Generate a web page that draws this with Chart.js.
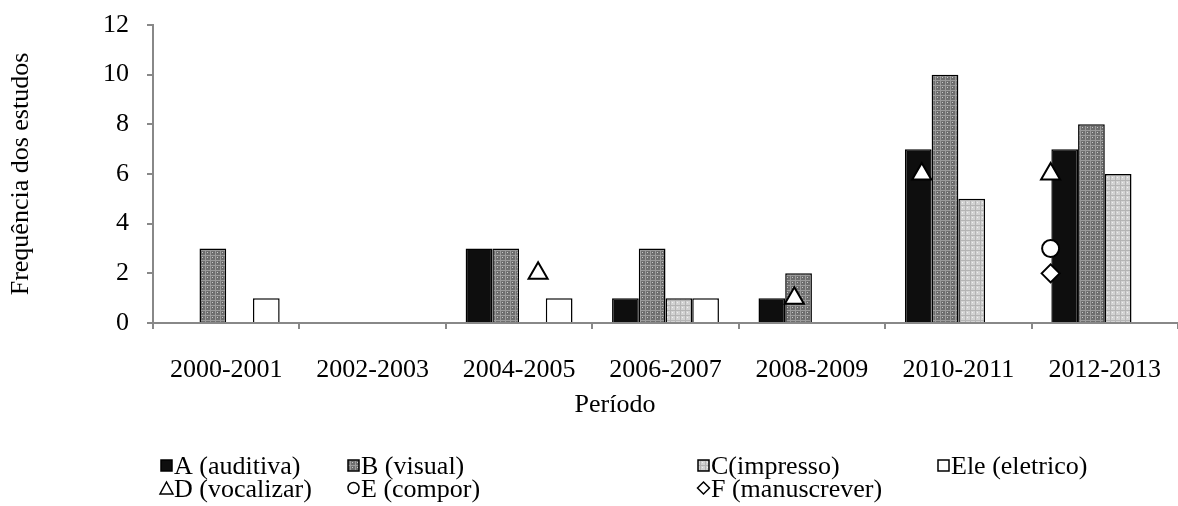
<!DOCTYPE html>
<html>
<head>
<meta charset="utf-8">
<script src="https://cdn.jsdelivr.net/npm/chart.js@4.4.1/dist/chart.umd.min.js"></script>
<style>
  html, body { margin: 0; padding: 0; background: #fff; }
  #wrap { width: 1178px; height: 506px; }
</style>
</head>
<body>
<div id="wrap"><canvas id="chart" width="1178" height="506"></canvas></div>
<script>
const periods = ['2000-2001', '2002-2003', '2004-2005', '2006-2007', '2008-2009', '2010-2011', '2012-2013'];

// bar series
const auditiva  = [0, 0, 3, 1, 1, 7, 7];
const visual    = [3, 0, 3, 3, 2, 10, 8];
const impresso  = [0, 0, 0, 1, 0, 5, 6];
const eletrico  = [1, 0, 1, 1, 0, 0, 0];

// marker series, x = position on the period axis (0 = first period)
const vocalizarX = [2.13, 3.88, 4.75, 5.63];
const vocalizarY = [2, 1, 6, 6];
const comporX    = [5.63];
const comporY    = [3];
const manuscX    = [5.63];
const manuscY    = [2];

const yTicks = [0, 2, 4, 6, 8, 10, 12];

const FONT = 'Liberation Serif';
const FS = 26;

function makePattern(base, line, dot) {
  const c = document.createElement('canvas');
  c.width = 5; c.height = 5;
  const g = c.getContext('2d');
  g.fillStyle = base; g.fillRect(0, 0, 5, 5);
  g.fillStyle = line;
  g.fillRect(0, 0, 5, 1);
  g.fillRect(0, 0, 1, 5);
  g.fillStyle = dot; g.fillRect(2, 2, 1, 1);
  return document.getElementById('chart').getContext('2d').createPattern(c, 'repeat');
}

const patB = makePattern('#6e6e6e', '#9a9a9a', '#c8c8c8');
const patC = makePattern('#d2d2d2', '#b4b4b4', '#f0f0f0');

const toPts = (xs, ys) => xs.map((x, i) => ({ x, y: ys[i] }));

const barDs = (label, data, bg) => ({
  type: 'bar', label, data, backgroundColor: bg,
  borderColor: '#000', borderWidth: 1.5,
  barPercentage: 1, categoryPercentage: 0.73, order: 2
});
// same x axis as the bars (a second x axis halves the bar width in 4.5),
// parsing off so fractional positions are kept
const ptDs = (label, pts, style, r) => ({
  type: 'scatter', label, data: pts, parsing: false,
  pointStyle: style, pointRadius: r, pointBackgroundColor: '#fff',
  pointBorderColor: '#000', pointBorderWidth: 2, showLine: false, order: 1
});

const legendCols = [160, 347, 697, 937];
const legendRows = [466, 489];

const legendPlugin = {
  id: 'customLegend',
  afterDraw(chart) {
    const ctx = chart.ctx;
    ctx.save();
    ctx.font = `${FS}px "${FONT}"`;
    ctx.textBaseline = 'middle';
    chart.data.datasets.forEach((ds, i) => {
      const col = i < 4 ? i : i - 4;
      const x = legendCols[col];
      const y = legendRows[i < 4 ? 0 : 1];
      ctx.lineWidth = 1.5;
      ctx.strokeStyle = '#000';
      if (ds.type === 'bar') {
        ctx.fillStyle = ds.backgroundColor;
        ctx.fillRect(x + 1, y - 6, 11, 11);
        ctx.strokeRect(x + 1, y - 6, 11, 11);
      } else {
        ctx.fillStyle = '#fff';
        ctx.beginPath();
        if (ds.pointStyle === 'triangle') {
          ctx.moveTo(x + 6.5, y - 7); ctx.lineTo(x + 13, y + 5); ctx.lineTo(x, y + 5); ctx.closePath();
        } else if (ds.pointStyle === 'circle') {
          ctx.arc(x + 6.5, y - 1, 5.5, 0, Math.PI * 2);
        } else {
          ctx.moveTo(x + 6.5, y - 7); ctx.lineTo(x + 12.5, y - 1); ctx.lineTo(x + 6.5, y + 5); ctx.lineTo(x + 0.5, y - 1); ctx.closePath();
        }
        ctx.fill(); ctx.stroke();
      }
      ctx.fillStyle = '#000';
      ctx.fillText(ds.label, x + 14, y + 1);
    });
    // x axis title sits left of centre in the original
    ctx.textAlign = 'center';
    ctx.fillText('Período', 615, 405);
    ctx.restore();
  }
};

new Chart(document.getElementById('chart'), {
  type: 'bar',
  data: {
    labels: periods,
    datasets: [
      barDs('A (auditiva)', auditiva, '#0e0e0e'),
      barDs('B (visual)', visual, patB),
      barDs('C(impresso)', impresso, patC),
      barDs('Ele (eletrico)', eletrico, '#fff'),
      ptDs('D (vocalizar)', toPts(vocalizarX, vocalizarY), 'triangle', 11),
      ptDs('E (compor)', toPts(comporX, comporY), 'circle', 8.5),
      ptDs('F (manuscrever)', toPts(manuscX, manuscY), 'rectRot', 9)
    ]
  },
  options: {
    responsive: false,
    animation: false,
    layout: { autoPadding: false, padding: { left: 6, top: 25, right: 0, bottom: 89 } },
    plugins: { legend: { display: false }, tooltip: { enabled: false } },
    scales: {
      x: {
        type: 'category',
        offset: true,
        grid: { display: true, drawOnChartArea: false, offset: true, tickLength: 6, color: '#888', lineWidth: 2 },
        border: { color: '#888', width: 2 },
        ticks: { color: '#000', font: { family: FONT, size: FS }, padding: 26, maxRotation: 0 },
        afterFit(scale) { scale.height = 94; scale.paddingLeft = 0; scale.paddingRight = 0; }
      },
      y: {
        min: 0, max: 12,
        afterBuildTicks(scale) { scale.ticks = yTicks.map(v => ({ value: v })); },
        grid: { display: true, drawOnChartArea: false, tickLength: 6, color: '#888', lineWidth: 2 },
        border: { color: '#888', width: 2 },
        ticks: { color: '#000', font: { family: FONT, size: FS }, padding: 18 },
        title: { display: true, text: 'Frequência dos estudos', color: '#000', font: { family: FONT, size: FS }, padding: 0 },
        afterFit(scale) { scale.width = 147; scale.paddingTop = 0; scale.paddingBottom = 0; }
      }
    }
  },
  plugins: [legendPlugin]
});
</script>
</body>
</html>
